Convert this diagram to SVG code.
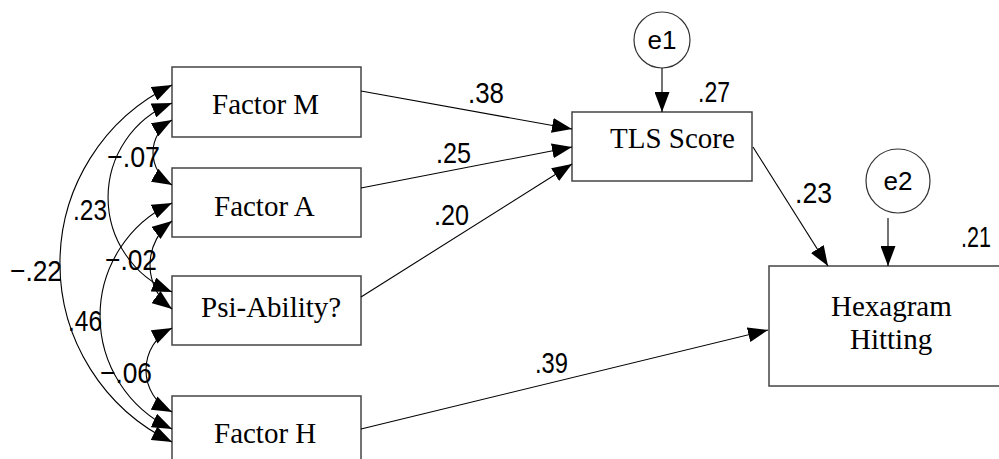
<svg xmlns="http://www.w3.org/2000/svg" width="999" height="459" viewBox="0 0 999 459">
  <style>
    .box { fill: #fff; stroke: #444; stroke-width: 1.5; }
    .err { fill: #fff; stroke: #333; stroke-width: 1.2; }
    .name { font-family: "Liberation Serif", "Times New Roman", serif; font-size: 29px; fill: #000; }
    .ename { font-family: "Liberation Sans", Arial, sans-serif; font-size: 26px; fill: #000; text-anchor: middle; }
    .coef { font-family: "Liberation Sans", Arial, sans-serif; font-size: 30px; fill: #000; }
    .path { fill: none; stroke: #000; stroke-width: 1.1; marker-end: url(#head); }
    .cov { fill: none; stroke: #000; stroke-width: 1.1; marker-start: url(#head); marker-end: url(#head); }
  </style>
  <defs>
    <marker id="head" markerUnits="userSpaceOnUse" markerWidth="20" markerHeight="15" refX="20" refY="7.5" orient="auto-start-reverse">
      <path d="M0,0 L20,7.5 L0,15 Z" fill="#000"/>
    </marker>
  </defs>
  <rect width="999" height="459" fill="#fff"/>

  <!-- observed variables -->
  <g id="factor-m">
    <rect class="box" x="172" y="67" width="189" height="70"/>
    <text class="name" x="212" y="114">Factor M</text>
  </g>
  <g id="factor-a">
    <rect class="box" x="172" y="168" width="189" height="69"/>
    <text class="name" x="214" y="216">Factor A</text>
  </g>
  <g id="psi-ability">
    <rect class="box" x="172" y="276" width="189" height="69"/>
    <text class="name" x="201" y="317">Psi-Ability?</text>
  </g>
  <g id="factor-h">
    <rect class="box" x="172" y="396" width="189" height="69"/>
    <text class="name" x="214" y="443">Factor H</text>
  </g>
  <g id="tls-score">
    <rect class="box" x="572" y="112" width="180" height="69"/>
    <text class="name" x="610" y="148">TLS Score</text>
  </g>
  <g id="hexagram-hitting">
    <rect class="box" x="769" y="266" width="240" height="120"/>
    <text class="name" x="831" y="316">Hexagram</text>
    <text class="name" x="850" y="349">Hitting</text>
  </g>

  <!-- error terms -->
  <g id="e1">
    <circle class="err" cx="662" cy="40" r="28"/>
    <text class="ename" x="662" y="49">e1</text>
  </g>
  <g id="e2">
    <circle class="err" cx="898" cy="181" r="32"/>
    <text class="ename" x="898" y="190">e2</text>
  </g>

  <!-- regression paths and covariances -->
  <g id="connectors">
    <line class="path" x1="361" y1="91" x2="572" y2="129"/>
    <line class="path" x1="361" y1="188" x2="572" y2="147"/>
    <line class="path" x1="361" y1="297" x2="572" y2="164"/>
    <line class="path" x1="361" y1="429" x2="768" y2="330"/>
    <line class="path" x1="753" y1="147" x2="828" y2="266"/>
    <line class="path" x1="662" y1="68" x2="662" y2="112"/>
    <line class="path" x1="888" y1="218" x2="888" y2="266"/>

    <path class="cov" d="M172,85 A198.2,198.2 0 0 0 172,442"/>
    <path class="cov" d="M172,103 A101.8,101.8 0 0 0 172,292"/>
    <path class="cov" d="M172,120 A37.3,37.3 0 0 0 172,185"/>
    <path class="cov" d="M172,203 A124.7,124.7 0 0 0 172,429"/>
    <path class="cov" d="M172,221 A55,55 0 0 0 172,309"/>
    <path class="cov" d="M172,328 A46.9,46.9 0 0 0 172,412"/>
  </g>

  <!-- estimates -->
  <g id="estimates">
    <text class="coef" x="468" y="103" textLength="36" lengthAdjust="spacingAndGlyphs">.38</text>
    <text class="coef" x="436" y="163" textLength="35" lengthAdjust="spacingAndGlyphs">.25</text>
    <text class="coef" x="434" y="225" textLength="35" lengthAdjust="spacingAndGlyphs">.20</text>
    <text class="coef" x="535" y="373" textLength="33" lengthAdjust="spacingAndGlyphs">.39</text>
    <text class="coef" x="698" y="102" textLength="32" lengthAdjust="spacingAndGlyphs">.27</text>
    <text class="coef" x="795" y="203" textLength="37" lengthAdjust="spacingAndGlyphs">.23</text>
    <text class="coef" x="961" y="247" textLength="30" lengthAdjust="spacingAndGlyphs">.21</text>
    <text class="coef" x="107" y="167" textLength="53" lengthAdjust="spacingAndGlyphs">−.07</text>
    <text class="coef" x="73" y="220" textLength="34" lengthAdjust="spacingAndGlyphs">.23</text>
    <text class="coef" x="105" y="270" textLength="52" lengthAdjust="spacingAndGlyphs">−.02</text>
    <text class="coef" x="10" y="281" textLength="52" lengthAdjust="spacingAndGlyphs">−.22</text>
    <text class="coef" x="68" y="331" textLength="34" lengthAdjust="spacingAndGlyphs">.46</text>
    <text class="coef" x="100" y="383" textLength="52" lengthAdjust="spacingAndGlyphs">−.06</text>
  </g>
</svg>
